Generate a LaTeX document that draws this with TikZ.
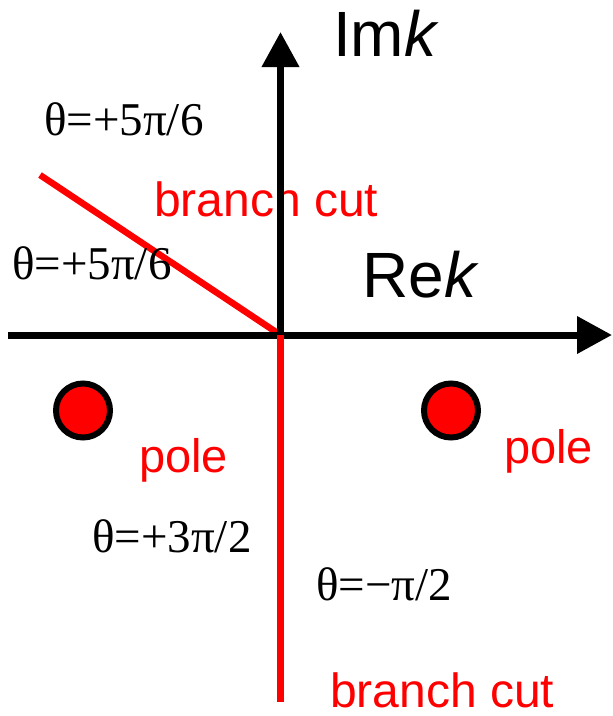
\documentclass[tikz,border=0pt]{standalone}
\usepackage{fontspec}
\setmainfont{Liberation Serif}
\newfontfamily\lsans{Liberation Sans}
\newfontfamily\lserif{Liberation Serif}
\usetikzlibrary{arrows.meta}
\definecolor{cutred}{RGB}{255,0,0}
\tikzset{
  axis/.style={line width=7pt, black, -{Triangle[length=35pt,width=36pt]}},
  cutline/.style={line width=6.5pt, cutred, line join=miter},
  polemark/.style={draw=black, line width=6pt, fill=cutred},
  biglbl/.style={inner sep=0pt, anchor=base west, font=\lsans\fontsize{64}{70}\selectfont},
  redlbl/.style={inner sep=0pt, anchor=base west, text=cutred, font=\lsans\fontsize{48}{52}\selectfont},
  polelbl/.style={inner sep=0pt, anchor=base west, text=cutred, font=\lsans\fontsize{47}{50}\selectfont},
  anglelbl/.style={inner sep=0pt, anchor=base west, font=\lserif\fontsize{47}{50}\selectfont}
}
\begin{document}
\begin{tikzpicture}[x=1pt,y=-1pt]
\useasboundingbox (0,0) rectangle (613,716);
\coordinate (O) at (280.5,335);
\coordinate (cutA) at (40,175);
\coordinate (cutB) at (280.5,702);
\coordinate (xL) at (8,335);
\coordinate (xR) at (612,335);
\coordinate (yT) at (280.5,32);
% branch cut
\draw[cutline] (cutA) -- (O);
% labels
\node[anglelbl] (t1) at (44,135) {θ=+5π/6};
\node[anglelbl] (t2) at (12,279) {θ=+5π/6};
\node[anglelbl] (t3) at (92,552) {θ=+3π/2};
\node[anglelbl] (t4) at (316,600) {θ=−π/2};
\node[redlbl] (bc1) at (154,216) {branch cut};
\node[redlbl] (bc2) at (330,707) {branch cut};
\node[polelbl] (p1) at (139,472) {pole};
\node[polelbl] (p2) at (504,463) {pole};
\node[biglbl] (im) at (333,56) {Im\textit{k}};
\node[biglbl] (re) at (362,297) {Re\textit{k}};
% axes
\draw[axis] (xL) -- (xR);
\draw[axis] (O) -- (yT);
\draw[cutline] (O) -- (cutB);
% poles
\path[polemark] (83,410.5) circle [radius=27];
\path[polemark] (451,410.5) circle [radius=27];
\end{tikzpicture}
\end{document}
